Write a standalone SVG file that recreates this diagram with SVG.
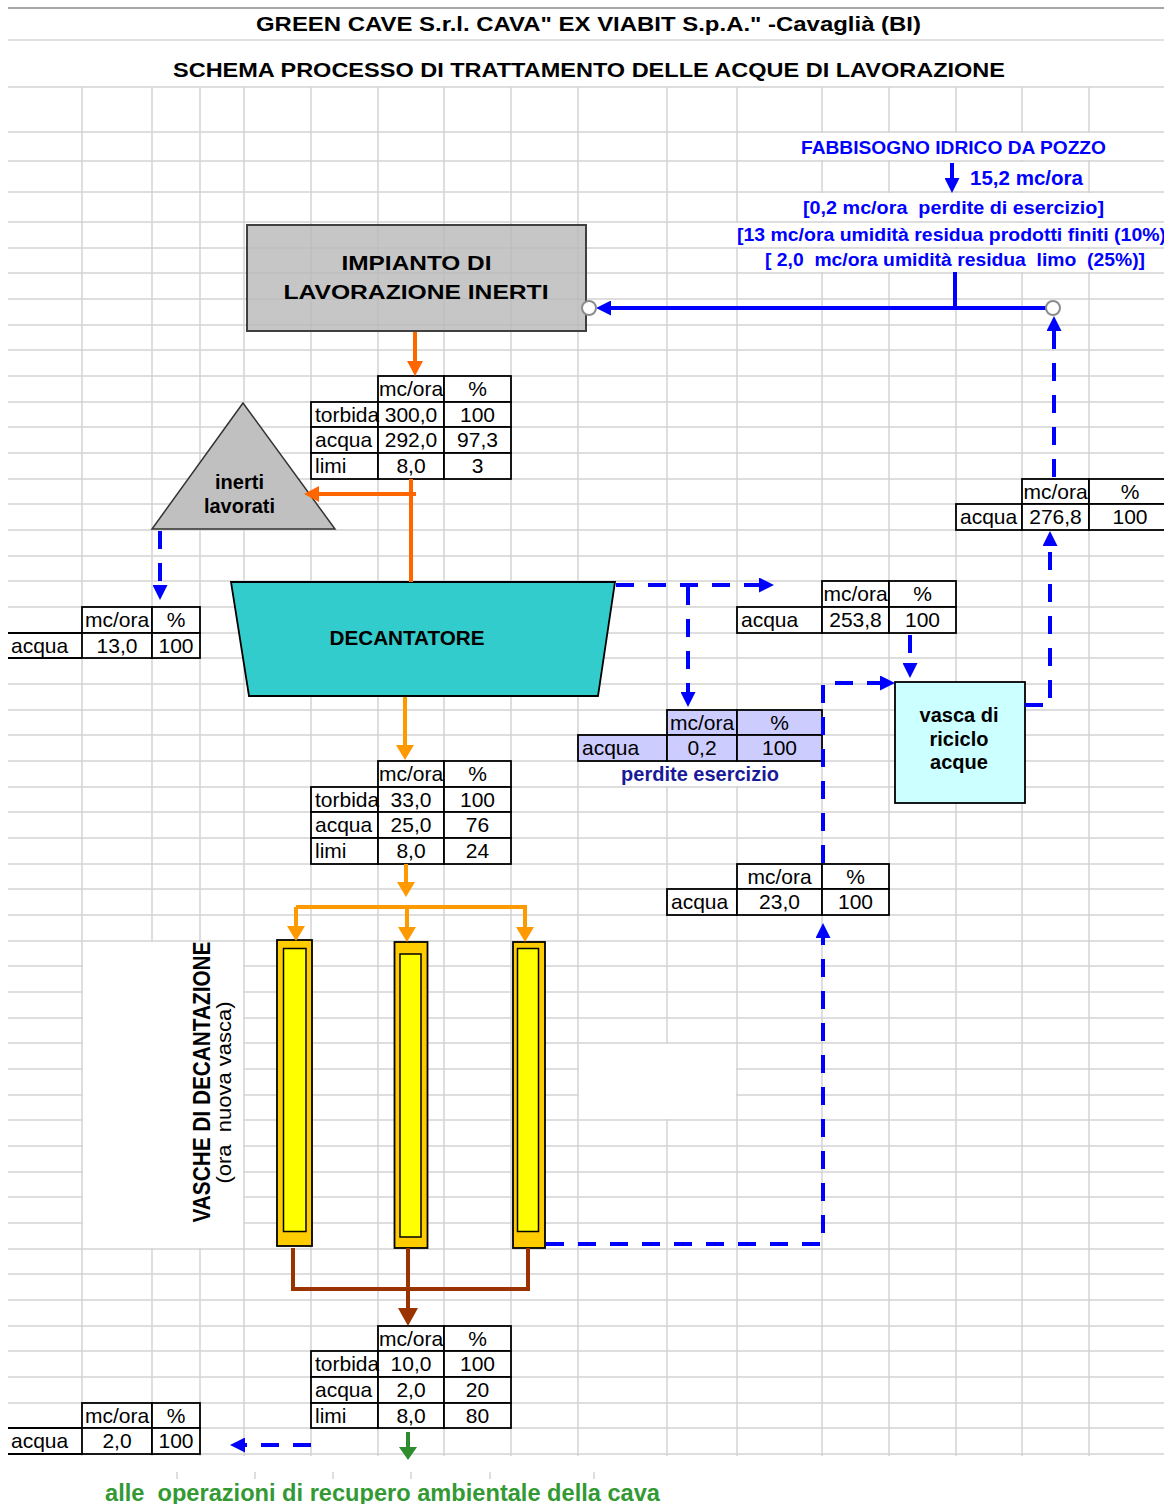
<svg xmlns="http://www.w3.org/2000/svg" width="1164" height="1504" viewBox="0 0 1164 1504">
<style>
text{font-family:"Liberation Sans",Arial,sans-serif;fill:#000}
.grid{stroke:#d4d4d4;stroke-width:1.5;fill:none}
.tb rect{fill:#fff;stroke:#000;stroke-width:1.8}
.tb rect.nb{stroke:none}
.tb path{stroke:#000;stroke-width:1.8;fill:none}
.tb.lav rect{fill:#ccccff}
.tb text{font-size:21px}
.m{text-anchor:middle}
.b{font-weight:bold}
.blue{fill:#0000ff;font-weight:bold}
.ln{fill:none;stroke-width:4}
.or1{stroke:#ff6600}
.or2{stroke:#ff9900}
.br{stroke:#993300}
.bl{stroke:#0000ff}
.gr{stroke:#2e8b2e}
.dash{stroke-dasharray:18 14}
.pre{white-space:pre}
.joint{fill:#fff;stroke:#8c8c8c;stroke-width:2}
</style>
<defs>
<marker id="mOR" viewBox="0 0 15 16" refX="0" refY="8" markerWidth="15" markerHeight="16" markerUnits="userSpaceOnUse" orient="auto"><path d="M0 0L15 8L0 16z" fill="#ff6600"/></marker>
<marker id="mO" viewBox="0 0 15 18" refX="0" refY="9" markerWidth="15" markerHeight="18" markerUnits="userSpaceOnUse" orient="auto"><path d="M0 0L15 9L0 18z" fill="#ff9900"/></marker>
<marker id="mBr" viewBox="0 0 18 20" refX="0" refY="10" markerWidth="18" markerHeight="20" markerUnits="userSpaceOnUse" orient="auto"><path d="M0 0L18 10L0 20z" fill="#993300"/></marker>
<marker id="mB" viewBox="0 0 15 15" refX="0" refY="7.5" markerWidth="15" markerHeight="15" markerUnits="userSpaceOnUse" orient="auto"><path d="M0 0L15 7.5L0 15z" fill="#0000ff"/></marker>
<marker id="mG" viewBox="0 0 13 18" refX="0" refY="9" markerWidth="13" markerHeight="18" markerUnits="userSpaceOnUse" orient="auto"><path d="M0 0L13 9L0 18z" fill="#2e8b2e"/></marker>
</defs>
<rect width="1164" height="1504" fill="#fff"/>
<g id="grid">
<path d="M8 8H1164" stroke="#a6a6a6" stroke-width="2"/>
<path class="grid" d="M8 40H1164"/>
<path class="grid" d="M8 87H1164M8 132H1164M8 161H1164M8 192H1164M8 222H1164M8 248H1164M8 273H1164M8 299H1164M8 325H1164M8 350H1164M8 376H1164M8 402H1164M8 427H1164M8 453H1164M8 479H1164M8 504H1164M8 530H1164M8 556H1164M8 581H1164M8 607H1164M8 633H1164M8 658H1164M8 684H1164M8 710H1164M8 735H1164M8 761H1164M8 787H1164M8 812H1164M8 838H1164M8 864H1164M8 889H1164M8 915H1164M8 941H1164M8 966H1164M8 992H1164M8 1018H1164M8 1043H1164M8 1069H1164M8 1095H1164M8 1120H1164M8 1146H1164M8 1172H1164M8 1197H1164M8 1223H1164M8 1249H1164M8 1274H1164M8 1300H1164M8 1326H1164M8 1351H1164M8 1377H1164M8 1403H1164M8 1428H1164M8 1454H1164"/>
<path class="grid" d="M82 87V1456M152 87V1456M200 87V1456M244 87V1456M311 87V1456M378 87V1456M444 87V1456M511 87V1456M578 87V1456M667 87V1456M737 87V1456M822 87V1456M889 87V1456M956 87V1456M1022 87V1456M1089 87V1456"/>
<g fill="#fff">
<rect x="83" y="942" width="160" height="306"/>
<rect x="579" y="1044" width="157" height="75"/>
<rect x="797" y="133" width="313" height="27"/>
<rect x="940" y="162" width="148" height="29"/>
<rect x="799" y="193" width="310" height="28"/>
<rect x="733" y="223" width="431" height="24"/>
<rect x="760" y="249" width="392" height="23"/>
<rect x="579" y="762" width="242" height="24"/>
</g>
<path class="grid" d="M177 1472V1479M255 1472V1479M333 1472V1479M411 1472V1479M490 1472V1479M594 1472V1479"/>
</g>

<g id="title">
<text x="588.5" y="31" class="m b" font-size="20" textLength="665" lengthAdjust="spacingAndGlyphs">GREEN CAVE S.r.l. CAVA" EX VIABIT S.p.A." -Cavaglià (BI)</text>
<text x="589" y="77" class="m b" font-size="20" textLength="832" lengthAdjust="spacingAndGlyphs">SCHEMA PROCESSO DI TRATTAMENTO DELLE ACQUE DI LAVORAZIONE</text>
</g>

<g id="fabbisogno">
<text x="801" y="154" class="blue" font-size="19" textLength="305" lengthAdjust="spacingAndGlyphs">FABBISOGNO IDRICO DA POZZO</text>
<text x="970" y="185" class="blue" font-size="20" textLength="113" lengthAdjust="spacingAndGlyphs">15,2 mc/ora</text>
<text x="803" y="214" class="blue pre" font-size="18" textLength="301" lengthAdjust="spacingAndGlyphs" xml:space="preserve">[0,2 mc/ora  perdite di esercizio]</text>
<text x="737" y="241" class="blue" font-size="18" textLength="429" lengthAdjust="spacingAndGlyphs">[13 mc/ora umidità residua prodotti finiti (10%)</text>
<text x="765" y="266" class="blue pre" font-size="18" textLength="380" lengthAdjust="spacingAndGlyphs" xml:space="preserve">[ 2,0  mc/ora umidità residua  limo  (25%)]</text>
</g>

<g id="impianto">
<rect x="247" y="225" width="339" height="106" fill="#b8b8b8" fill-opacity="0.8" stroke="#404040" stroke-width="2"/>
<text x="416.5" y="270" class="m b" font-size="21" textLength="150" lengthAdjust="spacingAndGlyphs">IMPIANTO DI</text>
<text x="416" y="299" class="m b" font-size="21" textLength="265" lengthAdjust="spacingAndGlyphs">LAVORAZIONE INERTI</text>
</g>

<g id="inerti-lavorati">
<polygon points="243,403 152,529 335,529" fill="#c0c0c0" stroke="#333" stroke-width="1.5"/>
<text x="239.5" y="489" class="m b" font-size="20">inerti</text>
<text x="239.5" y="513" class="m b" font-size="20">lavorati</text>
</g>

<g id="decantatore">
<polygon points="231,582 615,582 598,696 249,696" fill="#33cccc" stroke="#000" stroke-width="1.8"/>
<text x="407" y="645" class="m b" font-size="20" textLength="155" lengthAdjust="spacingAndGlyphs">DECANTATORE</text>
</g>

<g id="vasca-riciclo">
<rect x="895" y="682" width="130" height="121" fill="#ccffff" stroke="#000" stroke-width="1.8"/>
<text x="959" y="722" class="m b" font-size="20">vasca di</text>
<text x="959" y="745.5" class="m b" font-size="20">riciclo</text>
<text x="959" y="769" class="m b" font-size="20">acque</text>
</g>

<g id="vasca-1">
<rect x="277" y="940" width="35" height="306" fill="#ffcc00" stroke="#000" stroke-width="1.8"/>
<rect x="283.5" y="948.5" width="22.5" height="283" fill="#ffff00" stroke="#000" stroke-width="1.5"/>
</g>
<g id="vasca-2">
<rect x="394.5" y="942" width="33" height="306" fill="#ffcc00" stroke="#000" stroke-width="1.8"/>
<rect x="400" y="954" width="21" height="283" fill="#ffff00" stroke="#000" stroke-width="1.5"/>
</g>
<g id="vasca-3">
<rect x="513" y="942" width="32" height="306" fill="#ffcc00" stroke="#000" stroke-width="1.8"/>
<rect x="517.5" y="948.5" width="21" height="283" fill="#ffff00" stroke="#000" stroke-width="1.5"/>
</g>

<g id="label-vasche">
<text transform="translate(210,1082) rotate(-90)" class="m b" font-size="23" textLength="281" lengthAdjust="spacingAndGlyphs">VASCHE DI DECANTAZIONE</text>
<text transform="translate(231,1092.5) rotate(-90)" class="m pre" font-size="20" textLength="182" lengthAdjust="spacingAndGlyphs" xml:space="preserve">(ora  nuova vasca)</text>
</g>

<g id="tab-impianto" class="tb">
<rect x="378" y="376" width="66" height="26"/><rect x="444" y="376" width="67" height="26"/>
<rect x="311" y="402" width="67" height="25"/><rect x="378" y="402" width="66" height="25"/><rect x="444" y="402" width="67" height="25"/>
<rect x="311" y="427" width="67" height="26"/><rect x="378" y="427" width="66" height="26"/><rect x="444" y="427" width="67" height="26"/>
<rect x="311" y="453" width="67" height="26"/><rect x="378" y="453" width="66" height="26"/><rect x="444" y="453" width="67" height="26"/>
<text x="411" y="396" class="m">mc/ora</text><text x="477.5" y="396" class="m">%</text>
<text x="315" y="422">torbida</text><text x="411" y="422" class="m">300,0</text><text x="477.5" y="422" class="m">100</text>
<text x="315" y="447">acqua</text><text x="411" y="447" class="m">292,0</text><text x="477.5" y="447" class="m">97,3</text>
<text x="315" y="473">limi</text><text x="411" y="473" class="m">8,0</text><text x="477.5" y="473" class="m">3</text>
</g>

<g id="tab-inerti" class="tb">
<rect x="82" y="607" width="70" height="26"/><rect x="152" y="607" width="48" height="26"/>
<rect class="nb" x="9" y="634" width="72" height="23"/><path d="M8 633H82M8 658H82"/>
<rect x="82" y="633" width="70" height="25"/><rect x="152" y="633" width="48" height="25"/>
<text x="117" y="627" class="m">mc/ora</text><text x="176" y="627" class="m">%</text>
<text x="11" y="653">acqua</text><text x="117" y="653" class="m">13,0</text><text x="176" y="653" class="m">100</text>
</g>

<g id="tab-chiarificata" class="tb">
<rect x="822" y="581" width="67" height="26"/><rect x="889" y="581" width="67" height="26"/>
<rect x="737" y="607" width="85" height="26"/><rect x="822" y="607" width="67" height="26"/><rect x="889" y="607" width="67" height="26"/>
<text x="855.5" y="601" class="m">mc/ora</text><text x="922.5" y="601" class="m">%</text>
<text x="741" y="627">acqua</text><text x="855.5" y="627" class="m">253,8</text><text x="922.5" y="627" class="m">100</text>
</g>

<g id="tab-perdite" class="tb lav">
<rect x="667" y="710" width="70" height="25"/><rect x="737" y="710" width="85" height="25"/>
<rect x="578" y="735" width="89" height="26"/><rect x="667" y="735" width="70" height="26"/><rect x="737" y="735" width="85" height="26"/>
<text x="702" y="730" class="m">mc/ora</text><text x="779.5" y="730" class="m">%</text>
<text x="582" y="755">acqua</text><text x="702" y="755" class="m">0,2</text><text x="779.5" y="755" class="m">100</text>
<text x="700" y="781" class="m b" style="fill:#1a1a99;font-size:20px">perdite esercizio</text>
</g>

<g id="tab-ricircolo" class="tb">
<rect x="1022" y="479" width="67" height="25"/><rect x="1089" y="479" width="83" height="25"/>
<rect x="956" y="504" width="66" height="26"/><rect x="1022" y="504" width="67" height="26"/><rect x="1089" y="504" width="83" height="26"/>
<text x="1055.5" y="499" class="m">mc/ora</text><text x="1130" y="499" class="m">%</text>
<text x="960" y="524">acqua</text><text x="1055.5" y="524" class="m">276,8</text><text x="1130" y="524" class="m">100</text>
</g>

<g id="tab-decantatore" class="tb">
<rect x="378" y="761" width="66" height="26"/><rect x="444" y="761" width="67" height="26"/>
<rect x="311" y="787" width="67" height="25"/><rect x="378" y="787" width="66" height="25"/><rect x="444" y="787" width="67" height="25"/>
<rect x="311" y="812" width="67" height="26"/><rect x="378" y="812" width="66" height="26"/><rect x="444" y="812" width="67" height="26"/>
<rect x="311" y="838" width="67" height="26"/><rect x="378" y="838" width="66" height="26"/><rect x="444" y="838" width="67" height="26"/>
<text x="411" y="781" class="m">mc/ora</text><text x="477.5" y="781" class="m">%</text>
<text x="315" y="807">torbida</text><text x="411" y="807" class="m">33,0</text><text x="477.5" y="807" class="m">100</text>
<text x="315" y="832">acqua</text><text x="411" y="832" class="m">25,0</text><text x="477.5" y="832" class="m">76</text>
<text x="315" y="858">limi</text><text x="411" y="858" class="m">8,0</text><text x="477.5" y="858" class="m">24</text>
</g>

<g id="tab-vasche-acqua" class="tb">
<rect x="737" y="864" width="85" height="25"/><rect x="822" y="864" width="67" height="25"/>
<rect x="667" y="889" width="70" height="26"/><rect x="737" y="889" width="85" height="26"/><rect x="822" y="889" width="67" height="26"/>
<text x="779.5" y="884" class="m">mc/ora</text><text x="855.5" y="884" class="m">%</text>
<text x="671" y="909">acqua</text><text x="779.5" y="909" class="m">23,0</text><text x="855.5" y="909" class="m">100</text>
</g>

<g id="tab-fanghi" class="tb">
<rect x="378" y="1326" width="66" height="25"/><rect x="444" y="1326" width="67" height="25"/>
<rect x="311" y="1351" width="67" height="26"/><rect x="378" y="1351" width="66" height="26"/><rect x="444" y="1351" width="67" height="26"/>
<rect x="311" y="1377" width="67" height="26"/><rect x="378" y="1377" width="66" height="26"/><rect x="444" y="1377" width="67" height="26"/>
<rect x="311" y="1403" width="67" height="25"/><rect x="378" y="1403" width="66" height="25"/><rect x="444" y="1403" width="67" height="25"/>
<text x="411" y="1346" class="m">mc/ora</text><text x="477.5" y="1346" class="m">%</text>
<text x="315" y="1371">torbida</text><text x="411" y="1371" class="m">10,0</text><text x="477.5" y="1371" class="m">100</text>
<text x="315" y="1397">acqua</text><text x="411" y="1397" class="m">2,0</text><text x="477.5" y="1397" class="m">20</text>
<text x="315" y="1423">limi</text><text x="411" y="1423" class="m">8,0</text><text x="477.5" y="1423" class="m">80</text>
</g>

<g id="tab-umidita-limo" class="tb">
<rect x="82" y="1403" width="70" height="25"/><rect x="152" y="1403" width="48" height="25"/>
<rect class="nb" x="9" y="1429" width="72" height="24"/><path d="M8 1428H82M8 1454H82"/>
<rect x="82" y="1428" width="70" height="26"/><rect x="152" y="1428" width="48" height="26"/>
<text x="117" y="1423" class="m">mc/ora</text><text x="176" y="1423" class="m">%</text>
<text x="11" y="1448">acqua</text><text x="117" y="1448" class="m">2,0</text><text x="176" y="1448" class="m">100</text>
</g>

<g id="label-recupero">
<text x="105" y="1501" class="pre b" font-size="23" style="fill:#339933" textLength="555" lengthAdjust="spacingAndGlyphs" xml:space="preserve">alle  operazioni di recupero ambientale della cava</text>
</g>

<g id="connectors">
<path class="ln or1" d="M415 332V361" marker-end="url(#mOR)"/>
<path class="ln or1" d="M411 479V582"/>
<path class="ln or1" d="M416 494H319" marker-end="url(#mOR)"/>
<path class="ln or2" d="M405 697V745" marker-end="url(#mO)"/>
<path class="ln or2" d="M406 864V882" marker-end="url(#mO)"/>
<path class="ln or2" d="M296 907H527"/>
<path class="ln or2" d="M296 907V926" marker-end="url(#mO)"/>
<path class="ln or2" d="M407 907V927" marker-end="url(#mO)"/>
<path class="ln or2" d="M525 907V927" marker-end="url(#mO)"/>
<path class="ln br" d="M293 1248V1289H528V1248"/>
<path class="ln br" d="M408 1248V1308" marker-end="url(#mBr)"/>
<path class="ln gr" d="M408 1432V1447" marker-end="url(#mG)"/>
<path class="ln bl" d="M955 272V308"/>
<path class="ln bl" d="M1046 308H611" stroke-width="4.5" marker-end="url(#mB)"/>
<path class="ln bl" d="M952 163V178" marker-end="url(#mB)"/>
<path class="ln bl dash" d="M160 531V585" marker-end="url(#mB)"/>
<path class="ln bl dash" d="M616 585H759" marker-end="url(#mB)"/>
<path class="ln bl dash" d="M688 587V692" marker-end="url(#mB)"/>
<path class="ln bl dash" d="M910 635V663" marker-end="url(#mB)"/>
<path class="ln bl dash" d="M546 1244H823V938" marker-end="url(#mB)"/>
<path class="ln bl dash" d="M823 863V683H880" marker-end="url(#mB)"/>
<path class="ln bl dash" d="M1025 705H1050V546" marker-end="url(#mB)"/>
<path class="ln bl dash" d="M1054 477V331" marker-end="url(#mB)"/>
<path class="ln bl dash" d="M311 1445H245" marker-end="url(#mB)"/>
<circle class="joint" cx="589" cy="308" r="7"/>
<circle class="joint" cx="1053" cy="308" r="7"/>
</g>
</svg>
